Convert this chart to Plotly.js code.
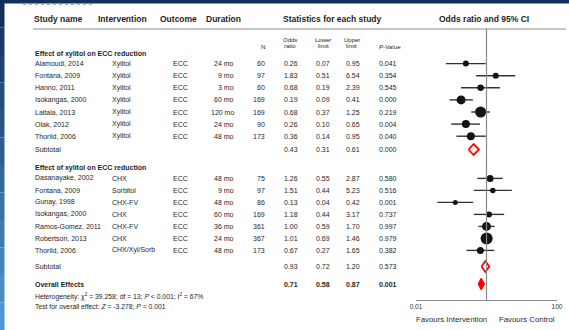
<!DOCTYPE html>
<html>
<head>
<meta charset="utf-8">
<script src="https://cdn.plot.ly/plotly-3.0.1.min.js"></script>
<style>html,body{margin:0;padding:0;background:#fff;}#chart{width:569px;height:330px;}</style>
</head>
<body>
<div id="chart"></div>
<script>
// ---------- DATA ----------
const groupTitles = ["Effect of xylitol on ECC reduction", "Effect of xylitol on ECC reduction"];

const studies1 = ["Alamoudi, 2014","Fontana, 2009","Hanno, 2011","Isokangas, 2000","Laitala, 2013","Olak, 2012","Thorild, 2006"];
const interv1  = ["Xylitol","Xylitol","Xylitol","Xylitol","Xylitol","Xylitol","Xylitol"];
const outcome1 = ["ECC","ECC","ECC","ECC","ECC","ECC","ECC"];
const duration1= ["24 mo","9 mo","3 mo","60 mo","120 mo","24 mo","48 mo"];
const n1       = [60,97,60,169,169,90,173];
const or1      = [0.26,1.83,0.68,0.19,0.68,0.26,0.36];
const lower1   = [0.07,0.51,0.19,0.09,0.37,0.10,0.14];
const upper1   = [0.95,6.54,2.39,0.41,1.25,0.65,0.95];
const pval1    = ["0.041","0.354","0.545","0.000","0.219","0.004","0.040"];
const weight1  = [36,36,42,81,121,64,64];   // relative study weight (marker area)
const subtotal1= {or:0.43, lower:0.31, upper:0.61, p:"0.000"};

const studies2 = ["Dasanayake, 2002","Fontana, 2009","Gunay, 1998","Isokangas, 2000","Ramos-Gomez, 2011","Robertson, 2013","Thorild, 2006"];
const interv2  = ["CHX","Sorbitol","CHX-FV","CHX","CHX-FV","CHX","CHX/Xyl/Sorb"];
const outcome2 = ["ECC","ECC","ECC","ECC","ECC","ECC","ECC"];
const duration2= ["48 mo","9 mo","48 mo","60 mo","36 mo","24 mo","48 mo"];
const n2       = [75,97,86,169,361,367,173];
const or2      = [1.26,1.51,0.13,1.18,1.00,1.01,0.67];
const lower2   = [0.55,0.44,0.04,0.44,0.59,0.69,0.27];
const upper2   = [2.87,5.23,0.42,3.17,1.70,1.46,1.65];
const pval2    = ["0.580","0.516","0.001","0.737","0.997","0.979","0.382"];
const weight2  = [49,30,25,36,81,144,49];
const subtotal2= {or:0.93, lower:0.72, upper:1.20, p:"0.573"};

const overall  = {or:0.71, lower:0.58, upper:0.87, p:"0.001"};
const heterogeneityText = "Heterogeneity: χ<sup>2</sup> = 39.258; df = 13; <i>P</i> < 0.001; I<sup>2</sup> = 67%";
const overallTestText   = "Test for overall effect: <i>Z</i> = -3.278; <i>P</i> = 0.001";
const axisTicks  = [0.01, 100];
const axisLabels = ["0.01", "100"];
const favourLabels = ["Favours Intervention", "Favours Control"];

// ---------- LAYOUT HELPERS ----------
const W = 569, H = 330;
const FONT = "Liberation Sans, Arial, Helvetica, sans-serif";
const TXT = "#1e1e1e";
const px = x => x / W;
const fmt = v => v.toFixed(2);

const ROW = {head:19, sub1:39.5, sub2:46, g1:54, r1:63.6, step1:12.1, st1:149.5,
             g2:168, r2:178.4, step2:12.0, st2:266.5, ov:284, het:296, test:306};
const rowsY1 = studies1.map((_, i) => ROW.r1 + i * ROW.step1);
const rowsY2 = studies2.map((_, i) => ROW.r2 + i * ROW.step2);

const COL = {name:35, interv:112, outcome:173, dur:234, n:265, or:298, lo:330, hi:360, p:397};

const ann = [];
function addText(text, x, y, anchor, size, bold, color) {
  ann.push({text: bold ? "<b>" + text + "</b>" : text, x: px(x), y: y, xref: "paper", yref: "y",
    xanchor: anchor, yanchor: "middle", showarrow: false, borderpad: 0, borderwidth: 0,
    font: {family: FONT, size: size, color: color || TXT}});
}

// headers
addText("Study name", 34, ROW.head, "left", 8.5, true);
addText("Intervention", 97.5, ROW.head, "left", 8.5, true);
addText("Outcome", 159.5, ROW.head, "left", 8.5, true);
addText("Duration", 205.5, ROW.head, "left", 8.5, true);
addText("Statistics for each study", 332, ROW.head, "center", 8.5, true);
addText("Odds ratio and 95% CI", 484, ROW.head, "center", 8.5, true);

addText("N", 262.5, ROW.sub2, "center", 6.2, false);
addText("Odds", 290, ROW.sub1, "center", 6, false);
addText("ratio", 290, ROW.sub2, "center", 6, false);
addText("Lower", 323, ROW.sub1, "center", 6, false);
addText("limit", 323, ROW.sub2, "center", 6, false);
addText("Upper", 351.5, ROW.sub1, "center", 6, false);
addText("limit", 351.5, ROW.sub2, "center", 6, false);
addText("<i>P</i>-Value", 389.5, ROW.sub2, "center", 6.2, false);

function addGroup(title, gy, names, iv, oc, du, nn, ors, los, his, ps, ys, st, sty) {
  addText(title, 34.5, gy, "left", 7, true);
  names.forEach((nm, i) => {
    const y = ys[i];
    addText(nm, COL.name, y, "left", 7);
    addText(iv[i], COL.interv, y, "left", 7);
    addText(oc[i], COL.outcome, y, "left", 7);
    addText(du[i], COL.dur, y, "right", 7);
    addText(String(nn[i]), COL.n, y, "right", 7);
    addText(fmt(ors[i]), COL.or, y, "right", 7);
    addText(fmt(los[i]), COL.lo, y, "right", 7);
    addText(fmt(his[i]), COL.hi, y, "right", 7);
    addText(ps[i], COL.p, y, "right", 7);
  });
  addText("Subtotal", COL.name, sty, "left", 7);
  addText(fmt(st.or), COL.or, sty, "right", 7);
  addText(fmt(st.lower), COL.lo, sty, "right", 7);
  addText(fmt(st.upper), COL.hi, sty, "right", 7);
  addText(st.p, COL.p, sty, "right", 7);
}
addGroup(groupTitles[0], ROW.g1, studies1, interv1, outcome1, duration1, n1, or1, lower1, upper1, pval1, rowsY1, subtotal1, ROW.st1);
addGroup(groupTitles[1], ROW.g2, studies2, interv2, outcome2, duration2, n2, or2, lower2, upper2, pval2, rowsY2, subtotal2, ROW.st2);

addText("Overall Effects", COL.name, ROW.ov, "left", 7, true);
addText(fmt(overall.or), COL.or, ROW.ov, "right", 7, true);
addText(fmt(overall.lower), COL.lo, ROW.ov, "right", 7, true);
addText(fmt(overall.upper), COL.hi, ROW.ov, "right", 7, true);
addText(overall.p, COL.p, ROW.ov, "right", 7, true);
addText(heterogeneityText, COL.name, ROW.het, "left", 6.8);
addText(overallTestText, COL.name, ROW.test, "left", 6.8);

addText(favourLabels[0], 451, 319, "center", 7.8, false, "#2a2a2a");
addText(favourLabels[1], 527, 319, "center", 7.8, false, "#2a2a2a");

// ---------- TRACES ----------
const traces = [];
function ciTraces(ors, los, his, ys, ws) {
  los.forEach((lo, i) => {
    traces.push({type: "scatter", mode: "lines", x: [lo, his[i]], y: [ys[i], ys[i]],
      line: {color: "#333", width: 1.4}, hoverinfo: "skip", showlegend: false});
  });
  traces.push({type: "scatter", mode: "markers", x: ors, y: ys,
    marker: {symbol: "circle", color: "#141414", opacity: 1, size: ws.map(w => Math.sqrt(w)), line: {width: 0}},
    showlegend: false});
}
ciTraces(or1, lower1, upper1, rowsY1, weight1);
ciTraces(or2, lower2, upper2, rowsY2, weight2);

function diamond(st, y, filled, hh) {
  traces.push({type: "scatter", mode: "lines",
    x: [st.lower, st.or, st.upper, st.or, st.lower],
    y: [y, y - hh, y, y + hh, y],
    fill: "toself", fillcolor: filled ? "#ff0000" : "#ffffff",
    line: {color: "#ff0000", width: filled ? 1.2 : 1.8}, showlegend: false, hoverinfo: "skip"});
}
diamond(subtotal1, ROW.st1, false, 5.5);
diamond(subtotal2, ROW.st2, false, 5.5);
diamond(overall, ROW.ov, true, 5.8);

// ---------- SHAPES ----------
const shapes = [
  {type: "line", xref: "paper", yref: "y", x0: px(33), x1: px(566), y0: 29, y1: 29, line: {color: "#8c8c8c", width: 1}},
  {type: "line", xref: "x", yref: "y", x0: 1, x1: 1, y0: 29, y1: 300, line: {color: "#8a8a8a", width: 1.2}},
  {type: "rect", xref: "paper", yref: "paper", x0: 0, x1: 1, y0: 1 - 3.5 / H, y1: 1, fillcolor: "#12305a", line: {width: 0}},
  {type: "line", xref: "paper", yref: "paper", x0: px(23), x1: px(95), y0: 1 - 4.5 / H, y1: 1 - 4.5 / H, line: {color: "#86c97e", width: 1, dash: "dot"}}
];
const SEG = 12;
for (let i = 0; i < SEG; i++) {
  const t = i / (SEG - 1);
  const r = Math.round(18 + t * (80 - 18)), g = Math.round(48 + t * (150 - 48)), b = Math.round(90 + t * (210 - 90));
  shapes.push({type: "rect", xref: "paper", yref: "paper", x0: 0, x1: px(4.5),
    y0: 1 - (i + 1) / SEG, y1: 1 - i / SEG, fillcolor: `rgb(${r},${g},${b})`, line: {width: 0}});
}

const layout = {
  width: W, height: H,
  margin: {l: 0, r: 0, t: 0, b: 0},
  paper_bgcolor: "#ffffff", plot_bgcolor: "rgba(0,0,0,0)",
  showlegend: false,
  xaxis: {type: "log", range: [-2, 2], domain: [px(416), px(557)], anchor: "free", position: 1 - 300 / H,
    showgrid: false, zeroline: false, showline: true, linecolor: "#8a8a8a", linewidth: 1,
    ticks: "inside", ticklen: 3, tickcolor: "#8a8a8a", tickvals: axisTicks, ticktext: axisLabels,
    tickfont: {family: FONT, size: 6.5, color: "#333"}, fixedrange: true},
  yaxis: {range: [H, 0], domain: [0, 1], visible: false, showgrid: false, zeroline: false, fixedrange: true},
  annotations: ann,
  shapes: shapes
};

Plotly.newPlot("chart", traces, layout, {displayModeBar: false, staticPlot: true});
</script>
</body>
</html>
